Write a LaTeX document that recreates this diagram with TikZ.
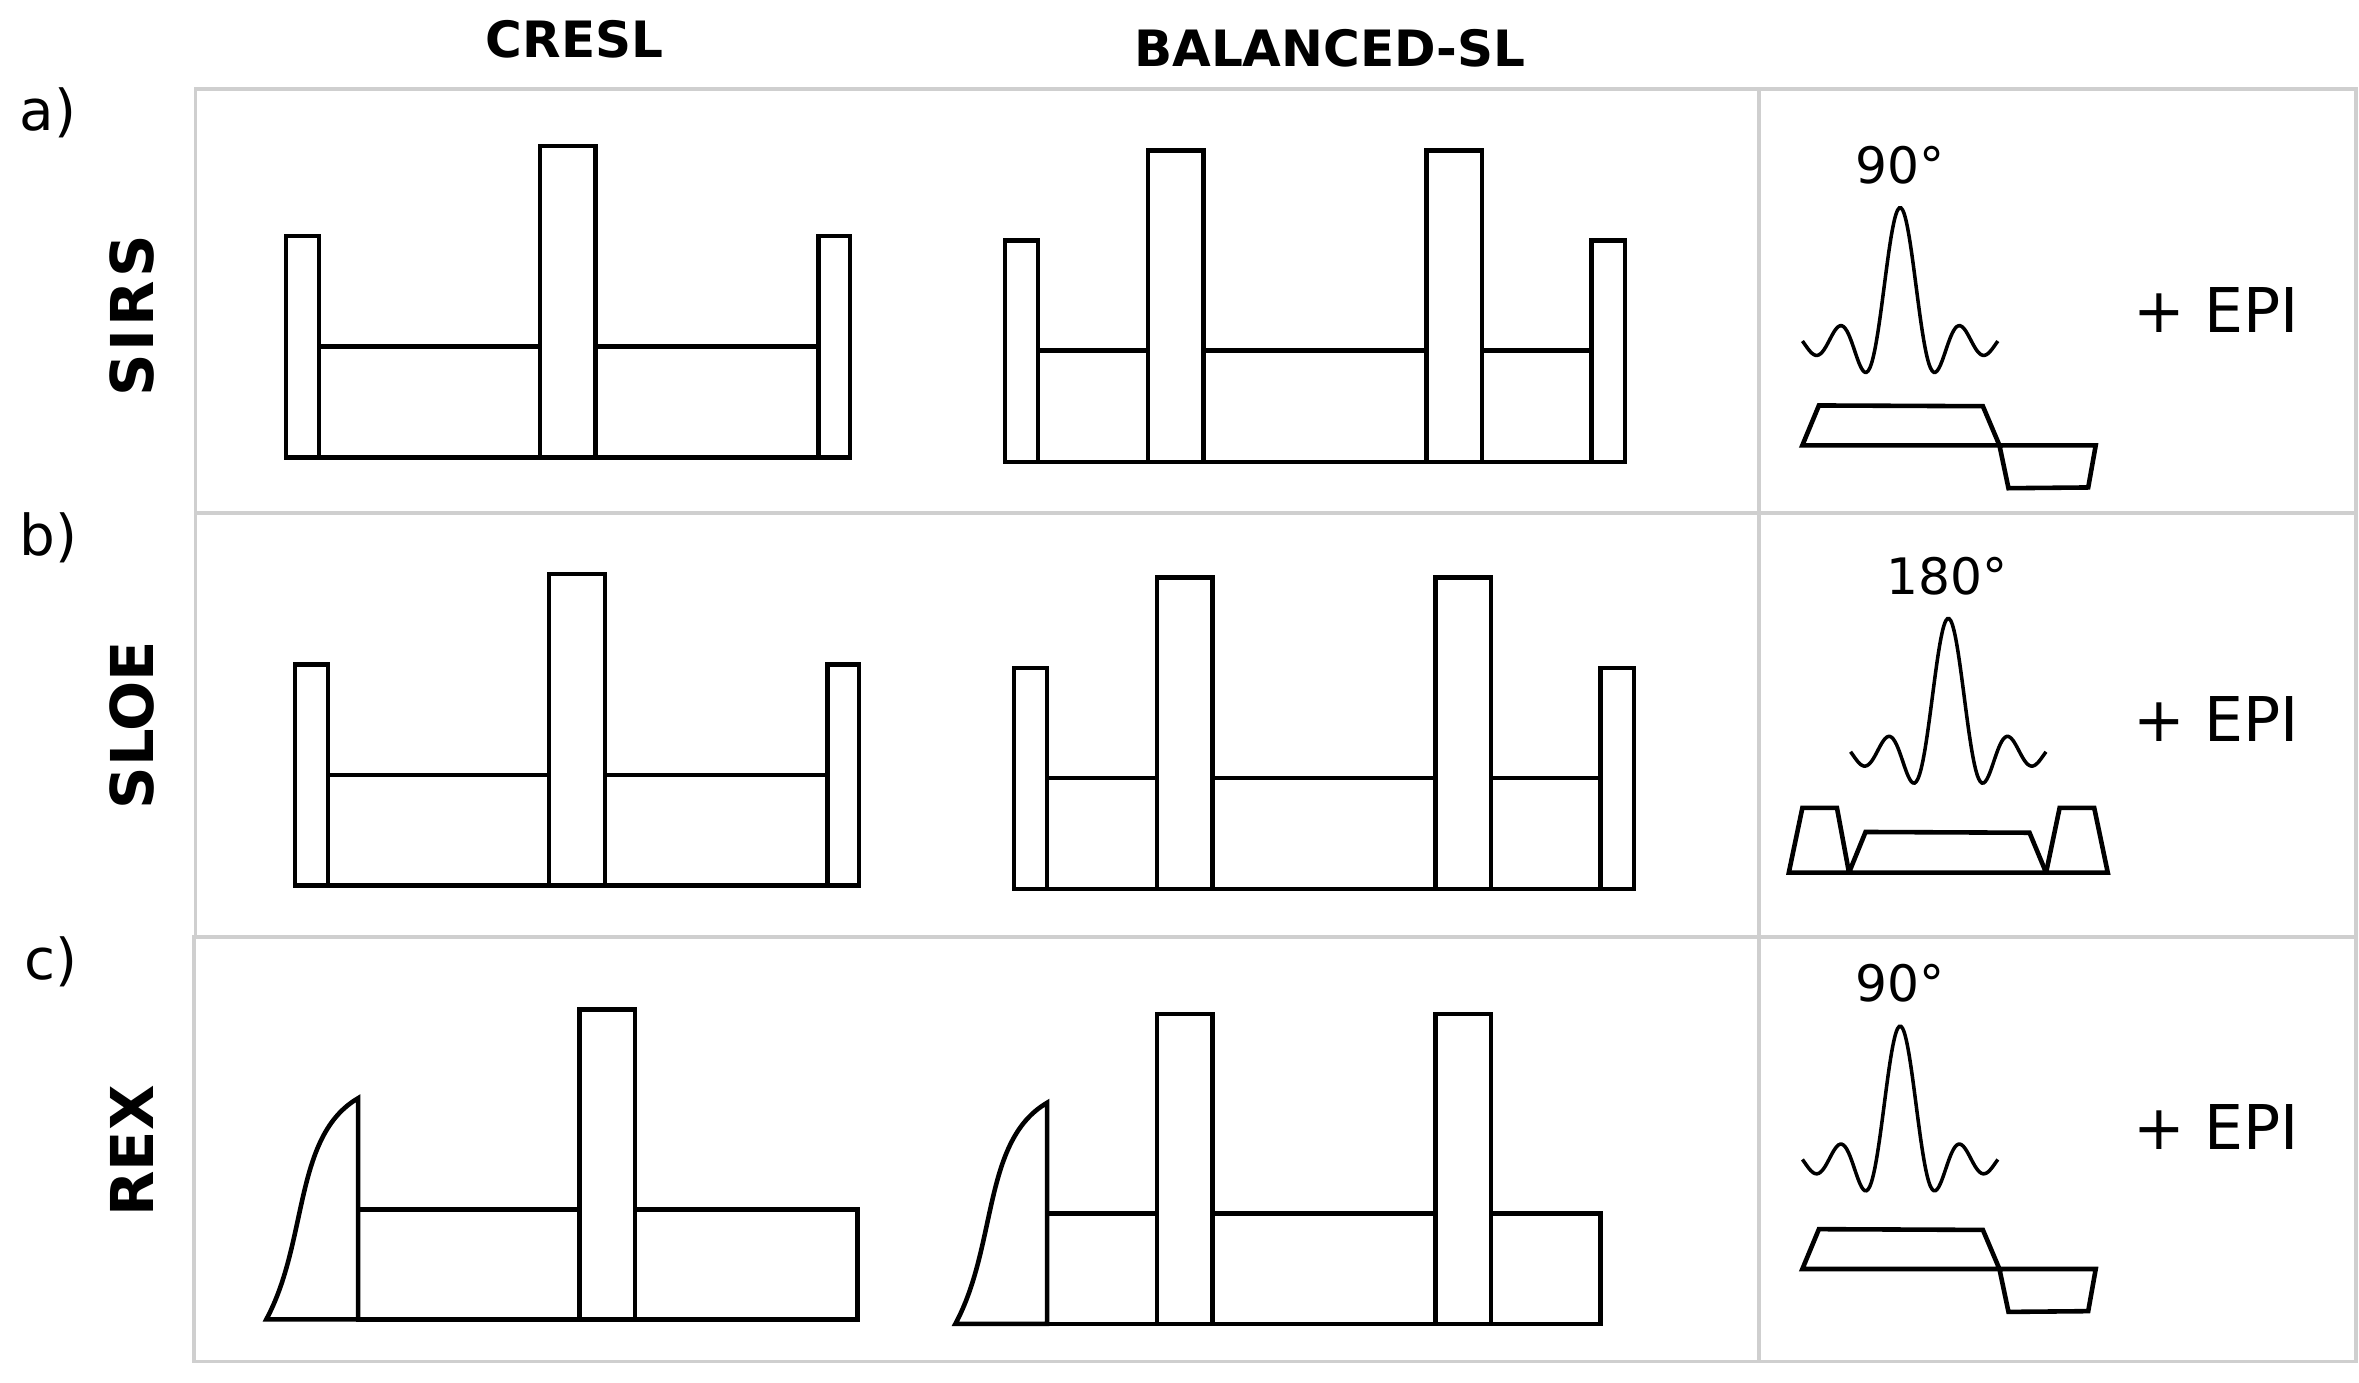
\documentclass[tikz,border=0pt]{standalone}
\usepackage{fontspec}
\setmainfont{DejaVu Sans}

\begin{document}
\begin{tikzpicture}[x = 0.03cm, y = -0.03cm,
    cell/.style = {draw = black!19, line width = 2.1pt},
    block/.style = {draw, line width = 2.6pt, line join = miter},
    rf/.style = {draw, line width = 2pt},
    coltitle/.style = {anchor = base, font = \fontsize{28.4pt}{28pt}\selectfont\bfseries},
    rowtitle/.style = {anchor = base, rotate = 90, font = \fontsize{33.5pt}{33pt}\selectfont\bfseries},
    letter/.style = {anchor = base west, font = \fontsize{32pt}{32pt}\selectfont},
    angle/.style = {anchor = base, font = \fontsize{28.5pt}{28pt}\selectfont},
    epi/.style = {anchor = base, font = \fontsize{35pt}{35pt}\selectfont}]
    \useasboundingbox (0,0) rectangle (1568,919);

    % table
    \draw [cell] (130,59) rectangle (1566,341);
    \draw [cell] (130,341) rectangle (1566,623);
    \draw [cell] (129,623) rectangle (1566,905);
    \draw [cell] (1169,59) -- (1169,905);

    % texts
    \node [coltitle] (CRESL) at (382,38) {CRESL};
    \node [coltitle] (BAL) at (884,44) {BALANCED-SL};
    \node [letter] (A) at (9,87) {a)};
    \node [letter] (B) at (9,369) {b)};
    \node [letter] (C) at (12,651) {c)};
    \node [rowtitle] (SIRS) at (102,210) {\addfontfeature{LetterSpace = 5}SIRS};
    \node [rowtitle] (SLOE) at (102,482) {SLOE};
    \node [rowtitle] (REX) at (102,765) {REX};
    \node [angle] (RF1) at (1263,122) {90°};
    \node [angle] (RF2) at (1294,395) {180°};
    \node [angle] (RF3) at (1263,666) {90°};
    \node [epi] (EPI1) at (1473,221) {+ EPI};
    \node [epi] (EPI2) at (1473,493) {+ EPI};
    \node [epi] (EPI3) at (1473,764) {+ EPI};

    % CRESL, rows a and b
    \foreach \dx/\dy in {0/0, 6/284.5} {
        \begin{scope}[shift = {(\dx,\dy)}]
            \draw [block] (190,157) rectangle (212,304);
            \draw [block] (212,230.5) rectangle (359,304);
            \draw [block] (359,97) rectangle (396,304);
            \draw [block] (396,230.5) rectangle (544,304);
            \draw [block] (544,157) rectangle (565,304);
        \end{scope}
    }

    % balanced, rows a and b
    \foreach \dx/\dy in {0/0, 6/284} {
        \begin{scope}[shift = {(\dx,\dy)}]
            \draw [block] (668,160) rectangle (690,307);
            \draw [block] (690,233) rectangle (763,307);
            \draw [block] (763,100) rectangle (800,307);
            \draw [block] (800,233) rectangle (948,307);
            \draw [block] (948,100) rectangle (985,307);
            \draw [block] (985,233) rectangle (1058,307);
            \draw [block] (1058,160) rectangle (1080,307);
        \end{scope}
    }

    % row c
    \draw [block] (177,877) .. controls (205,825) and (195,755) .. (238,730) -- (238,877) -- cycle;
    \draw [block] (238,804) rectangle (385,877);
    \draw [block] (385,671) rectangle (422,877);
    \draw [block] (422,804) rectangle (570,877);
    \draw [block] (635,880) .. controls (663,828) and (653,758) .. (696,733) -- (696,880) -- cycle;
    \draw [block] (696,806.5) rectangle (769,880);
    \draw [block] (769,674) rectangle (806,880);
    \draw [block] (806,806.5) rectangle (954,880);
    \draw [block] (954,674) rectangle (991,880);
    \draw [block] (991,806.5) rectangle (1064,880);

    % rf pulses
    \foreach \cx/\cy in {1263/228, 1295/501, 1263/772} {
        \draw [rf, shift = {(\cx,\cy)}] plot [domain = -4.06:4.06, samples = 120, smooth]
            ({16*\x}, {-90*sin(180*\x)/(pi*\x)});
    }

    % gradients
    \foreach \dy in {0, 547.5} {
        \begin{scope}[shift = {(0,\dy)}]
            \draw [block] (1198,296) -- (1209,269.5) -- (1318,270) -- (1329,296) -- cycle;
            \draw [block] (1329,296) -- (1393,296) -- (1388,324) -- (1335,324.5) -- cycle;
        \end{scope}
    }
    \draw [block] (1189,580) -- (1198,537) -- (1221,537) -- (1229,580) -- cycle;
    \draw [block] (1229,580) -- (1240,553) -- (1349,553.5) -- (1360,580) -- cycle;
    \draw [block] (1360,580) -- (1369,537) -- (1392,537) -- (1401,580) -- cycle;
\end{tikzpicture}
\end{document}
